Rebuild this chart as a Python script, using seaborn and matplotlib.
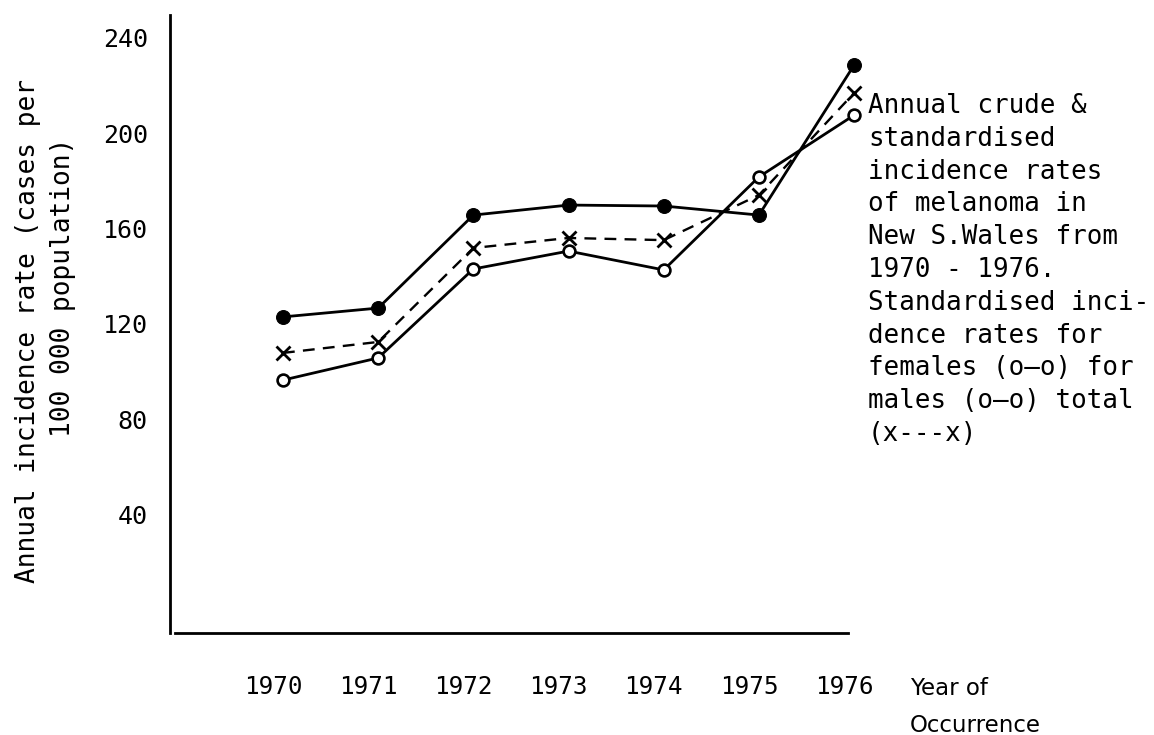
#!/usr/bin/env python3
# Annual crude & standardised incidence rates of melanoma, New S.Wales 1970-1976

import matplotlib

matplotlib.use("Agg")
import matplotlib.pyplot as plt  # noqa: E402
import matplotlib.transforms as mtransforms  # noqa: E402
import seaborn as sns  # noqa: E402

# data
years = [1970, 1971, 1972, 1973, 1974, 1975, 1976]
crude_rate = [122.9, 126.6, 165.6, 169.8, 169.4, 165.6, 228.5]      # filled circles
total_rate = [107.8, 112.4, 151.8, 156.0, 155.1, 174.0, 216.8]      # x---x
open_rate = [96.4, 105.7, 143.0, 150.5, 142.6, 181.6, 207.5]        # open circles
y_ticks = [40, 80, 120, 160, 200, 240]

note = ("Annual crude &\nstandardised\nincidence rates\nof melanoma in\n"
        "New S.Wales from\n1970 - 1976.\nStandardised inci-\ndence rates for\n"
        "females (o\u2014o) for\nmales (o\u2014o) total\n(x---x)")

sns.set_style("white")
plt.rcParams["font.family"] = ["DejaVu Sans Mono", "DejaVu Sans"]
plt.rcParams["text.color"] = "black"

fig = plt.figure(figsize=(11.54, 7.35), dpi=100)
ax = fig.add_axes([0.1473, 0.1388, 0.6344, 0.8408])

line_kw = dict(color="black", clip_on=False, ax=ax)
sns.lineplot(x=years, y=crude_rate, marker="o", markersize=10, linewidth=2,
             markerfacecolor="black", markeredgecolor="black", **line_kw)
sns.lineplot(x=years, y=total_rate, marker="x", markersize=10, linewidth=1.7,
             markeredgewidth=2, markeredgecolor="black", dashes=(5, 3.5),
             **line_kw)
sns.lineplot(x=years, y=open_rate, marker="o", markersize=8.5, linewidth=2,
             markerfacecolor="white", markeredgecolor="black",
             markeredgewidth=1.9, **line_kw)

ax.set_xlim(1968.813, 1976.504)
ax.set_ylim(-9.64, 249.5)
ax.set_xticks(years)
ax.set_xticklabels([str(y) for y in years])
ax.set_yticks(y_ticks)
ax.set_yticklabels([str(t) for t in y_ticks])
ax.tick_params(axis="both", length=0, colors="black")
ax.tick_params(axis="x", pad=30, labelsize=17.5)
ax.tick_params(axis="y", pad=16, labelsize=18)
for lab in ax.get_xticklabels():
    lab.set_transform(lab.get_transform()
                      + mtransforms.ScaledTranslation(-0.1, 0, fig.dpi_scale_trans))

for side in ["top", "right"]:
    ax.spines[side].set_visible(False)
for side in ["left", "bottom"]:
    ax.spines[side].set_color("black")
    ax.spines[side].set_linewidth(2)
ax.spines["bottom"].set_bounds(1968.865, 1975.937)
ax.set_xlabel("")
ax.set_ylabel("")

# y axis title, two rotated lines
fig.text(28 / 1154, 1 - 331 / 735, "Annual incidence rate (cases per",
         rotation=90, ha="center", va="center", fontsize=18.9, color="black")
fig.text(63 / 1154, 1 - 287 / 735, "100 000 population)",
         rotation=90, ha="center", va="center", fontsize=18.9, color="black")

fig.text(910 / 1154, 1 - 677 / 735, "Year of\nOccurrence", ha="left", va="top",
         fontsize=16.5, linespacing=1.75, color="black",
         family=["DejaVu Sans"])

fig.text(868 / 1154, 1 - 93 / 735, note, ha="left", va="top",
         fontsize=18.6, linespacing=1.34, color="black")

fig.savefig("out.png", dpi=100)
plt.close(fig)
